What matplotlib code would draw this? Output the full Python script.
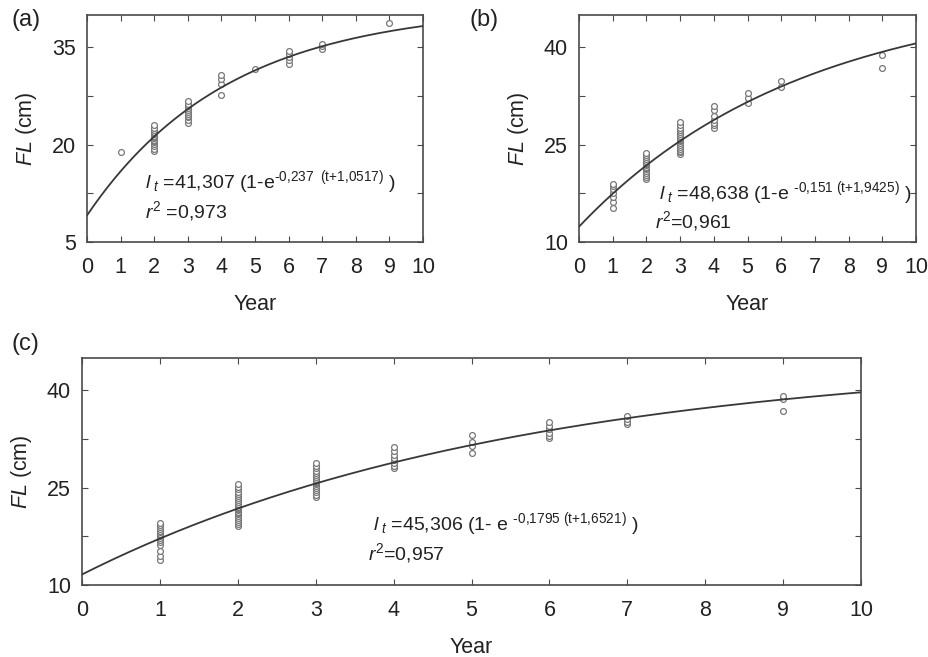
import numpy as np
import matplotlib
matplotlib.use("Agg")
import matplotlib.pyplot as plt

plt.rcParams["font.family"] = ["Liberation Sans", "DejaVu Sans"]
plt.rcParams["mathtext.fontset"] = "custom"
plt.rcParams["mathtext.rm"] = "Liberation Sans"
plt.rcParams["mathtext.it"] = "Liberation Sans:italic"

age_a = [1] + [2] * 16 + [3] * 11 + [4] * 4 + [5] + [6] * 5 + [7] * 3 + [9]
fl_a = [18.8,
        19.0, 19.4, 19.8, 20.1, 20.4, 20.6, 20.8, 21.0, 21.2, 21.4, 21.6, 21.8, 22.0, 22.3, 22.6, 23.0,
        23.4, 23.8, 24.2, 24.5, 24.8, 25.1, 25.4, 25.7, 26.0, 26.3, 26.7,
        27.7, 29.3, 30.1, 30.7,
        31.6,
        32.5, 33.0, 33.5, 34.0, 34.4,
        34.8, 35.2, 35.6,
        38.7]

age_b = [1] * 7 + [2] * 16 + [3] * 18 + [4] * 7 + [5] * 3 + [6] * 2 + [9] * 2
fl_b = [15.3, 16.2, 17.0, 17.6, 18.2, 18.6, 19.0,
        19.7, 20.0, 20.3, 20.6, 20.9, 21.2, 21.4, 21.6, 21.8, 22.0, 22.2, 22.5, 22.8, 23.1, 23.4, 23.7,
        23.5, 23.8, 24.1, 24.4, 24.7, 25.0, 25.3, 25.5, 25.7, 25.9, 26.1, 26.3, 26.6, 26.9, 27.2, 27.6, 28.0, 28.5,
        27.6, 28.0, 28.4, 28.8, 29.4, 30.3, 31.0,
        31.5, 32.2, 33.0,
        33.9, 34.8,
        36.8, 38.9]

age_c = [1] * 16 + [2] * 24 + [3] * 18 + [4] * 8 + [5] * 4 + [6] * 6 + [7] * 4 + [9] * 3
fl_c = [13.8, 14.5, 15.2, 16.2, 16.6, 16.9, 17.2, 17.5, 17.7, 17.9, 18.1, 18.4, 18.7, 19.0, 19.2, 19.5,
        19.1, 19.4, 19.7, 20.0, 20.3, 20.6, 20.9, 21.1, 21.3, 21.5, 21.7, 21.9, 22.1, 22.3, 22.5, 22.8,
        23.1, 23.4, 23.7, 24.0, 24.4, 24.8, 25.1, 25.5,
        23.5, 23.9, 24.3, 24.6, 24.9, 25.2, 25.5, 25.7, 25.9, 26.1, 26.4, 26.7, 27.0, 27.3, 27.6, 28.0, 28.4, 28.8,
        28.0, 28.4, 28.8, 29.2, 29.6, 30.0, 30.6, 31.2,
        30.3, 31.5, 32.0, 33.2,
        32.6, 33.0, 33.5, 34.0, 34.5, 35.2,
        34.8, 35.2, 35.6, 36.0,
        36.9, 38.7, 39.1]

# von Bertalanffy parameters: Linf, k, t0 (as printed)
vb_a = (41.307, 0.237, 1.0517)
vb_b = (48.638, 0.151, 1.9425)
vb_c = (45.306, 0.1795, 1.6521)

LT = r"$\mathit{l}_{\ \mathit{t}}$"
eq_a = LT + r" =41,307 (1-e$^{\text{-0,237  (t+1,0517)}}$ )"
eq_b = LT + r" =48,638 (1-e $^{\text{-0,151 (t+1,9425)}}$ )"
eq_c = LT + r" =45,306 (1- e $^{\text{-0,1795 (t+1,6521)}}$ )"
r2_a = r"$\mathit{r}^{2}$ =0,973"
r2_b = r"$\mathit{r}^{2}$=0,961"
r2_c = r"$\mathit{r}^{2}$=0,957"

x_ticks = list(range(0, 11))
y_ticks_a = [5, 12.5, 20, 27.5, 35]
y_ticks_bc = [10, 17.5, 25, 32.5, 40]

GREY = "#4a4a4a"


def panel(fig, rect, ages, fls, vb, ylim, yticks, eq, eq_xy, r2, r2_xy, tag, tag_xy):
    ax = fig.add_axes(rect)
    t = np.linspace(0, 10, 200)
    linf, k, t0 = vb
    ax.plot(t, linf * (1 - np.exp(-k * (t + t0))), color="#383838", lw=1.3, zorder=3)
    ax.plot(ages, fls, linestyle="none", marker="o", markersize=4.2,
            markerfacecolor="white", markeredgecolor="#777777", markeredgewidth=0.9, zorder=2)
    ax.set_xlim(0, 10)
    ax.set_ylim(*ylim)
    ax.set_xticks(x_ticks)
    ax.set_yticks(yticks)
    ax.set_yticklabels([f"{v:g}" if i % 2 == 0 else "" for i, v in enumerate(yticks)])
    ax.tick_params(axis="x", direction="in", top=True, bottom=True, length=4,
                   labelsize=15.5, pad=11, color=GREY, labelcolor="#222222")
    ax.tick_params(axis="y", direction="in", left=True, right=True, length=4,
                   labelsize=15.5, pad=8, color=GREY, labelcolor="#222222")
    for s in ax.spines.values():
        s.set_color(GREY)
        s.set_linewidth(1.2)
    ax.set_xlabel("Year", fontsize=15.5, labelpad=11, color="#222222")
    ax.set_ylabel(r"$\mathit{FL}$ (cm)", fontsize=15.5, labelpad=9, color="#222222")
    ax.text(*eq_xy, eq, transform=ax.transAxes, fontsize=14, color="#222222")
    ax.text(*r2_xy, r2, transform=ax.transAxes, fontsize=14, color="#222222")
    fig.text(*tag_xy, tag, fontsize=17, va="center", ha="left", color="#222222")
    return ax


fig = plt.figure(figsize=(9.29, 6.57), dpi=100)

panel(fig, [0.0937, 0.6317, 0.3617, 0.3455], age_a, fl_a, vb_a, (5, 40), y_ticks_a,
      eq_a, (0.173, 0.238), r2_a, (0.173, 0.106), "(a)", (0.012, 0.969))
panel(fig, [0.6233, 0.6317, 0.3628, 0.3455], age_b, fl_b, vb_b, (10, 45), y_ticks_bc,
      eq_b, (0.237, 0.19), r2_b, (0.226, 0.062), "(b)", (0.505, 0.969))
panel(fig, [0.0883, 0.1096, 0.8385, 0.3455], age_c, fl_c, vb_c, (10, 45), y_ticks_bc,
      eq_c, (0.374, 0.242), r2_c, (0.367, 0.11), "(c)", (0.012, 0.476))

fig.savefig("out.png", dpi=100)
